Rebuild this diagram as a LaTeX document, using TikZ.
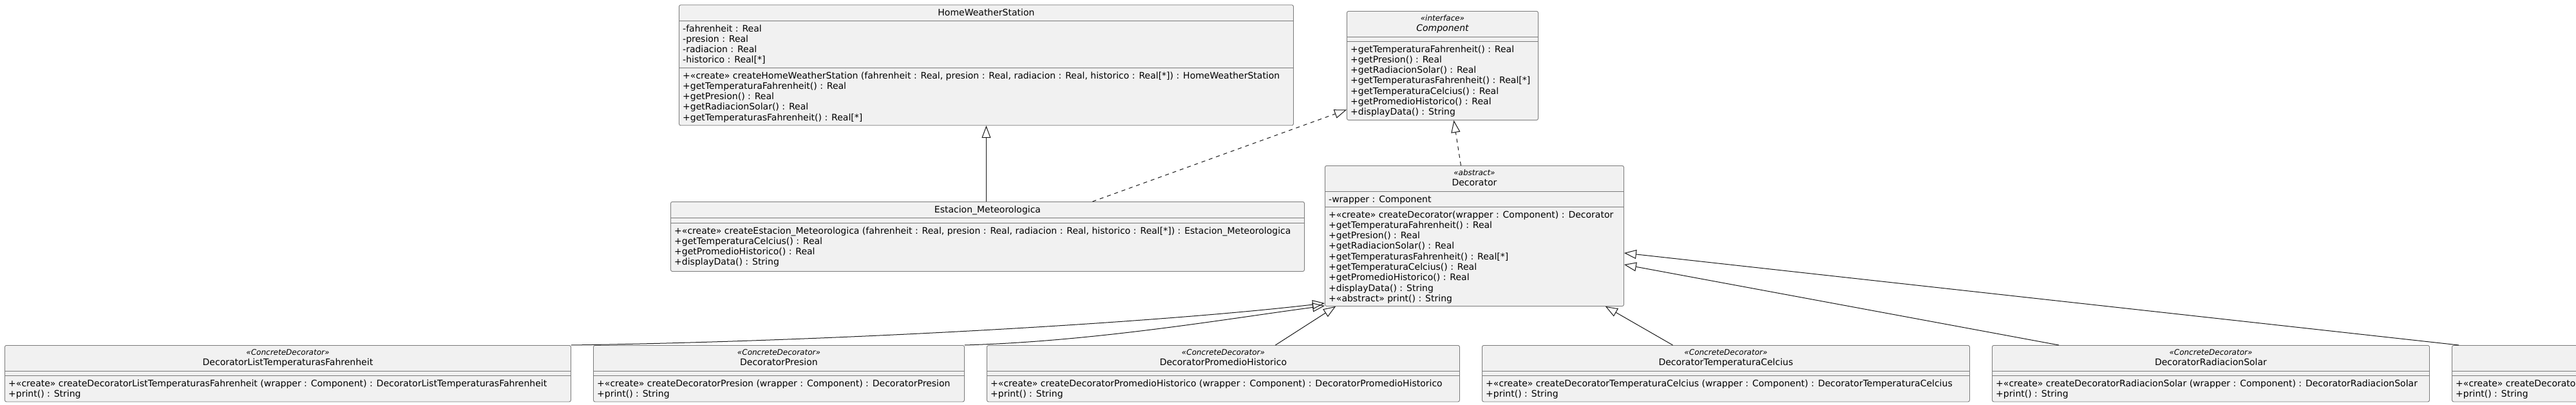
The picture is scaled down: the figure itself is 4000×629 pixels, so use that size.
\documentclass[tikz,border=0pt]{standalone}
\usepackage{fontspec}
\setmainfont{DejaVu Sans}
\usetikzlibrary{arrows.meta}
\definecolor{boxfill}{HTML}{F1F1F1}
\definecolor{ink}{HTML}{181818}
\definecolor{boxline}{HTML}{7A7A7A}
\tikzset{
  classbox/.style={draw=boxline, fill=boxfill, line width=0.9pt, rounded corners=2.5pt, inner sep=0pt, anchor=north west},
  sepline/.style={draw=boxline, line width=0.9pt},
  rowtxt/.style={anchor=base west, inner sep=0pt, text=black, font=\fontsize{14}{16.3}\selectfont},
  titletxt/.style={anchor=base, inner sep=0pt, text=black, font=\fontsize{14}{16.3}\selectfont},
  stereotxt/.style={anchor=base, inner sep=0pt, text=black, font=\fontsize{12}{14}\selectfont\itshape},
  ext/.style={draw=ink, line width=1pt, -{Triangle[open, length=19pt, width=14pt]}},
  impl/.style={ext, dash pattern=on 6pt off 6pt},
}
\newcommand\umlrows[4]{%
  \foreach \t [count=\i from 0] in {#4} {
    \node[rowtxt] (#1-#2-\i) at ([xshift=6pt,yshift={-(#3+16.3*\i)*1pt}]#1.north west) {\t};
  }}
\newcommand\umlsep[2]{\draw[sepline] ([yshift=-#2pt]#1.north west) -- ([yshift=-#2pt]#1.north east);}
\begin{document}
\begin{tikzpicture}[x=1pt, y=-1pt]
\useasboundingbox (0,0) rectangle (4000,629);
\clip (0,0) rectangle (4000,629);
\fill[white] (0,0) rectangle (4000,629);

% HomeWeatherStation
\node[classbox, minimum width=954pt, minimum height=187pt] (hws) at (1054,7.3) {};
\umlsep{hws}{24.7}
\umlsep{hws}{97.7}
\node[titletxt] (hws-t) at ([yshift=-17.3pt]hws.north) {HomeWeatherStation};
\umlrows{hws}{a}{41.7}{{-fahrenheit : Real},{-presion : Real},{-radiacion : Real},{-historico : Real[*]}}
\umlrows{hws}{m}{114.7}{{+«create» createHomeWeatherStation (fahrenheit : Real, presion : Real, radiacion : Real, historico : Real[*]) : HomeWeatherStation},{+getTemperaturaFahrenheit() : Real},{+getPresion() : Real},{+getRadiacionSolar() : Real},{+getTemperaturasFahrenheit() : Real[*]}}

% Component
\node[classbox, minimum width=297pt, minimum height=169pt] (comp) at (2091,17) {};
\umlsep{comp}{40}
\umlsep{comp}{47}
\node[stereotxt] (comp-s) at ([yshift=-15.5pt]comp.north) {«interface»};
\node[titletxt, font=\fontsize{14}{16.3}\selectfont\itshape] (comp-t) at ([yshift=-31.2pt]comp.north) {Component};
\umlrows{comp}{m}{64}{{+getTemperaturaFahrenheit() : Real},{+getPresion() : Real},{+getRadiacionSolar() : Real},{+getTemperaturasFahrenheit() : Real[*]},{+getTemperaturaCelcius() : Real},{+getPromedioHistorico() : Real},{+displayData() : String}}

% Estacion_Meteorologica
\node[classbox, minimum width=984pt, minimum height=108pt] (est) at (1041,313) {};
\umlsep{est}{25}
\umlsep{est}{33}
\node[titletxt] (est-t) at ([yshift=-17.3pt]est.north) {Estacion\_Meteorologica};
\umlrows{est}{m}{50}{{+«create» createEstacion\_Meteorologica (fahrenheit : Real, presion : Real, radiacion : Real, historico : Real[*]) : Estacion\_Meteorologica},{+getTemperaturaCelcius() : Real},{+getPromedioHistorico() : Real},{+displayData() : String}}

% Decorator
\node[classbox, minimum width=464pt, minimum height=218pt] (dec) at (2057,257) {};
\umlsep{dec}{40}
\umlsep{dec}{64}
\node[stereotxt] (dec-s) at ([yshift=-15.5pt]dec.north) {«abstract»};
\node[titletxt] (dec-t) at ([yshift=-31.2pt]dec.north) {Decorator};
\umlrows{dec}{a}{57}{{-wrapper : Component}}
\umlrows{dec}{m}{81}{{+«create» createDecorator(wrapper : Component) : Decorator},{+getTemperaturaFahrenheit() : Real},{+getPresion() : Real},{+getRadiacionSolar() : Real},{+getTemperaturasFahrenheit() : Real[*]},{+getTemperaturaCelcius() : Real},{+getPromedioHistorico() : Real},{+displayData() : String},{+«abstract» print() : String}}

% Concrete decorators
\node[classbox, minimum width=879pt, minimum height=87.5pt] (lt) at (7,536) {};
\umlsep{lt}{40}\umlsep{lt}{47}
\node[stereotxt] (lt-s) at ([yshift=-15.5pt]lt.north) {«ConcreteDecorator»};
\node[titletxt] (lt-t) at ([yshift=-31.2pt]lt.north) {DecoratorListTemperaturasFahrenheit};
\umlrows{lt}{m}{64}{{+«create» createDecoratorListTemperaturasFahrenheit (wrapper : Component) : DecoratorListTemperaturasFahrenheit},{+print() : String}}

\node[classbox, minimum width=576pt, minimum height=87.5pt] (pr) at (921,536) {};
\umlsep{pr}{40}\umlsep{pr}{47}
\node[stereotxt] (pr-s) at ([yshift=-15.5pt]pr.north) {«ConcreteDecorator»};
\node[titletxt] (pr-t) at ([yshift=-31.2pt]pr.north) {DecoratorPresion};
\umlrows{pr}{m}{64}{{+«create» createDecoratorPresion (wrapper : Component) : DecoratorPresion},{+print() : String}}

\node[classbox, minimum width=734pt, minimum height=87.5pt] (ph) at (1532,536) {};
\umlsep{ph}{40}\umlsep{ph}{47}
\node[stereotxt] (ph-s) at ([yshift=-15.5pt]ph.north) {«ConcreteDecorator»};
\node[titletxt] (ph-t) at ([yshift=-31.2pt]ph.north) {DecoratorPromedioHistorico};
\umlrows{ph}{m}{64}{{+«create» createDecoratorPromedioHistorico (wrapper : Component) : DecoratorPromedioHistorico},{+print() : String}}

\node[classbox, minimum width=757pt, minimum height=87.5pt] (tc) at (2301,536) {};
\umlsep{tc}{40}\umlsep{tc}{47}
\node[stereotxt] (tc-s) at ([yshift=-15.5pt]tc.north) {«ConcreteDecorator»};
\node[titletxt] (tc-t) at ([yshift=-31.2pt]tc.north) {DecoratorTemperaturaCelcius};
\umlrows{tc}{m}{64}{{+«create» createDecoratorTemperaturaCelcius (wrapper : Component) : DecoratorTemperaturaCelcius},{+print() : String}}

\node[classbox, minimum width=679pt, minimum height=87.5pt] (rs) at (3093,536) {};
\umlsep{rs}{40}\umlsep{rs}{47}
\node[stereotxt] (rs-s) at ([yshift=-15.5pt]rs.north) {«ConcreteDecorator»};
\node[titletxt] (rs-t) at ([yshift=-31.2pt]rs.north) {DecoratorRadiacionSolar};
\umlrows{rs}{m}{64}{{+«create» createDecoratorRadiacionSolar (wrapper : Component) : DecoratorRadiacionSolar},{+print() : String}}

\node[classbox, minimum width=600pt, minimum height=87.5pt] (sx) at (3807,536) {};
\umlsep{sx}{40}\umlsep{sx}{47}
\umlrows{sx}{m}{64}{{+«create» createDecorator},{+print() : String}}

% Connectors
\draw[ext] (hws.south |- est.north) -- (hws.south);
\draw[impl] ([xshift=163pt]est.north) -- ([yshift=-68.5pt]comp.west);
\draw[impl] ([xshift=-21pt]dec.north) -- ([xshift=17.5pt]comp.south);
\draw[ext] (lt.north east) .. controls +(414,-6) and +(-257,30) .. ([yshift=5pt]dec.south west);
\draw[ext] (pr.north east) .. controls +(203,-6) and +(-157,21) .. ([yshift=1pt]dec.south west);
\draw[ext] ([xshift=81pt]ph.north) -- ([xshift=17pt]dec.south west);
\draw[ext] ([xshift=-82.5pt]tc.north) -- ([xshift=-29pt]dec.south east);
\draw[ext] ([xshift=104pt]rs.north west) -- ([yshift=65pt]dec.south east);
\draw[ext] ([xshift=11pt]sx.north west) -- ([yshift=83pt]dec.south east);
\end{tikzpicture}
\end{document}
